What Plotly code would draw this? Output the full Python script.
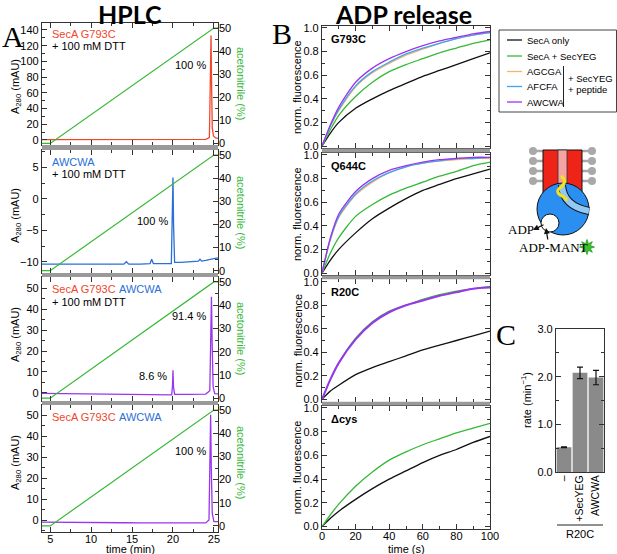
import numpy as np
import plotly.graph_objects as go

W, H = 617, 554

# ---------------- Panel A data (HPLC) ----------------
grad_time = [4.0, 5.0, 25.0, 25.5]
grad_acn = [0, 0, 50, 50]

a1_time = [4.0, 6, 8, 10, 12, 14, 16, 18, 20, 22, 24.0, 24.45, 24.55, 24.65, 24.72, 24.8, 24.95, 25.2, 25.5]
a1_abs = [0.4, 0.4, 0.4, 0.5, 0.5, 0.5, 0.5, 0.5, 0.6, 0.6, 0.8, 3, 60, 133, 70, 15, 5, 2.5, 2]

a2_time = [4.0, 6, 8, 10, 12, 14.0, 14.3, 14.6, 16, 17.2, 17.4, 17.6, 19.8, 19.93, 20.0, 20.07, 20.2,
           21, 22, 23.1, 23.3, 23.5, 24, 24.5, 25, 25.5]
a2_abs = [-10.4, -10.4, -10.5, -10.5, -10.4, -10.4, -10.0, -10.4, -10.4, -10.3, -9.6, -10.3, -10.3, -4,
          3.4, -4, -10.1, -10.1, -10.0, -9.9, -9.6, -9.9, -9.8, -9.6, -9.5, -9.4]

a3_time = [4.0, 6, 8, 10, 12, 14, 16, 18, 19.85, 19.95, 20.0, 20.06, 20.2, 22, 24.0, 24.5, 24.62, 24.7,
           24.78, 24.9, 25.1, 25.5]
a3_abs = [-0.3, -0.4, -0.5, -0.6, -0.7, -0.8, -0.9, -1.0, -1.0, 4, 10.8, 3, -0.7, -0.7, -0.6, 1, 25,
          46, 25, 3, -0.4, -0.5]

a4_time = [4.0, 6, 8, 10, 12, 14, 16, 18, 20, 22, 24.0, 24.4, 24.52, 24.6, 24.68, 24.8, 25.0, 25.5]
a4_abs = [-1.0, -1.0, -1.1, -1.2, -1.3, -1.3, -1.4, -1.4, -1.5, -1.5, -1.4, 0, 25, 50.2, 25, 3, -0.8, -0.8]

# ---------------- Panel B data (ADP release) ----------------
b_time = [0, 5, 10, 20, 30, 40, 50, 60, 70, 80, 90, 100]
g793_only = [0, 0.11, 0.20, 0.32, 0.40, 0.47, 0.53, 0.59, 0.64, 0.69, 0.74, 0.79]
g793_secyeg = [0, 0.14, 0.26, 0.42, 0.54, 0.63, 0.69, 0.74, 0.79, 0.83, 0.87, 0.90]
g793_agcga = [0, 0.17, 0.30, 0.50, 0.62, 0.70, 0.77, 0.82, 0.87, 0.91, 0.94, 0.96]
g793_afcfa = [0, 0.17, 0.31, 0.51, 0.63, 0.71, 0.78, 0.83, 0.87, 0.91, 0.94, 0.96]
g793_awcwa = [0, 0.18, 0.33, 0.54, 0.66, 0.74, 0.80, 0.85, 0.89, 0.92, 0.95, 0.97]

q644_only = [0, 0.11, 0.20, 0.34, 0.46, 0.55, 0.63, 0.70, 0.75, 0.80, 0.84, 0.88]
q644_secyeg = [0, 0.17, 0.30, 0.48, 0.58, 0.66, 0.72, 0.77, 0.82, 0.86, 0.91, 0.94]
q644_agcga = [0, 0.28, 0.47, 0.66, 0.77, 0.85, 0.90, 0.93, 0.95, 0.96, 0.97, 0.97]
q644_afcfa = [0, 0.29, 0.48, 0.67, 0.78, 0.85, 0.90, 0.93, 0.95, 0.97, 0.97, 0.98]
q644_awcwa = [0, 0.30, 0.50, 0.69, 0.80, 0.87, 0.91, 0.94, 0.96, 0.97, 0.98, 0.98]

r20_only = [0, 0.07, 0.12, 0.21, 0.27, 0.32, 0.37, 0.42, 0.46, 0.50, 0.54, 0.58]
r20_secyeg = [0, 0.17, 0.31, 0.52, 0.66, 0.75, 0.80, 0.85, 0.89, 0.92, 0.94, 0.96]
r20_awcwa = [0, 0.17, 0.31, 0.51, 0.65, 0.74, 0.80, 0.84, 0.88, 0.91, 0.94, 0.95]

dcys_only = [0, 0.07, 0.13, 0.23, 0.32, 0.40, 0.47, 0.54, 0.60, 0.65, 0.71, 0.76]
dcys_secyeg = [0, 0.10, 0.19, 0.34, 0.46, 0.56, 0.63, 0.69, 0.74, 0.79, 0.83, 0.87]

legend_names = ["SecA only", "SecA + SecYEG", "AGCGA", "AFCFA", "AWCWA"]

# ---------------- Panel C data ----------------
c_cats = ["–", "+SecYEG", "AWCWA"]
c_rates = [0.52, 2.08, 1.98]
c_errs = [0.01, 0.12, 0.15]

# ---------------- colours ----------------
C_RED = "#f2462a"
C_BLUE = "#2a6fd8"
C_PURPLE = "#9a35ee"
C_GREEN = "#35b935"
C_BLACK = "#111111"
C_ORANGE = "#f6b36a"
C_LBLUE = "#3aa8f0"
series_colors = [C_BLACK, C_GREEN, C_ORANGE, C_LBLUE, C_PURPLE]

FONT = "Liberation Sans"
SERIF = "Liberation Serif"


def xd(a, b):
    return [a / W, b / W]


def yd(top, bot):
    return [1 - bot / H, 1 - top / H]


AX = dict(showline=True, linecolor="#333", linewidth=1.2, ticks="inside", ticklen=5,
          tickcolor="#333", tickwidth=1, showgrid=False, zeroline=False, automargin=False,
          tickfont=dict(size=11, color="black", family=FONT))

fig = go.Figure()
layout = {}
shapes = []
annotations = []


def ann(x, y, text, size=11, color="black", xanchor="center", yanchor="middle", family=FONT,
        textangle=0, **kw):
    annotations.append(dict(x=x, y=y, xref="x10", yref="y14", text=text, showarrow=False,
                            font=dict(size=size, color=color, family=family), xanchor=xanchor,
                            yanchor=yanchor, textangle=textangle, **kw))


# ---------------- Panel A ----------------
A_frames = [(23, 145), (150, 273), (277, 401), (405, 532)]
A_yranges = [(-6.4, 148.9), (-11.8, 7.8), (-3.9, 55.4), (-5.7, 54.8)]
A_dtick = [20, 5, 10, 10]
A_minor = [10, 2.5, 5, 5]
A_rranges = [(-0.7, 52.2), (-1.0, 52.2), (-1.2, 52.1), (-2.6, 52.2)]
A_series = [(a1_time, a1_abs, C_RED), (a2_time, a2_abs, C_BLUE),
            (a3_time, a3_abs, C_PURPLE), (a4_time, a4_abs, C_PURPLE)]
AX_L, AX_R = 42, 218

for i in range(4):
    xn = "xaxis" if i == 0 else f"xaxis{i + 1}"
    xr = "x" if i == 0 else f"x{i + 1}"
    yl = "yaxis" if i == 0 else f"yaxis{i + 1}"
    ylr = "y" if i == 0 else f"y{i + 1}"
    yrn = f"yaxis{i + 5}"
    yrr = f"y{i + 5}"
    top, bot = A_frames[i]
    layout[xn] = dict(AX, domain=xd(AX_L, AX_R), range=[4.0, 25.5], anchor=ylr, tick0=5, dtick=5,
                      mirror="ticks", showticklabels=(i == 3), ticklabelstandoff=-3,
                      minor=dict(dtick=2.5, tick0=5, ticks="inside", ticklen=3, tickcolor="#333"))
    layout[yl] = dict(AX, domain=yd(top, bot), range=list(A_yranges[i]), anchor=xr,
                      dtick=A_dtick[i], mirror=True,
                      minor=dict(dtick=A_minor[i], ticks="inside", ticklen=3, tickcolor="#333"))
    layout[yrn] = dict(AX, domain=yd(top, bot), range=list(A_rranges[i]), anchor=xr,
                       overlaying=ylr, side="right", dtick=10, showline=False,
                       minor=dict(dtick=5, ticks="inside", ticklen=3, tickcolor="#333"))
    t, v, c = A_series[i]
    fig.add_trace(go.Scatter(x=t, y=v, mode="lines", line=dict(color=c, width=1.3),
                             xaxis=xr, yaxis=ylr, showlegend=False, hoverinfo="skip"))
    fig.add_trace(go.Scatter(x=grad_time, y=grad_acn, mode="lines", line=dict(color=C_GREEN, width=1.2),
                             xaxis=xr, yaxis=yrr, showlegend=False, hoverinfo="skip"))

# separators in panel A
for (t1, b1), (t2, b2) in zip(A_frames[:-1], A_frames[1:]):
    shapes.append(dict(type="rect", xref="x10", yref="y14", x0=AX_L, x1=AX_R, y0=b1, y1=t2,
                       fillcolor="#9a9a9a", line=dict(width=0), layer="below"))

# panel A texts
ann(130, 14, "<b>HPLC</b>", size=25, family="Lato")
ann(0, 36, "A", size=30, family=SERIF, xanchor="left")
for yc in [87, 216, 335, 463]:
    ann(16, yc, "A<sub>280</sub> (mAU)", size=11, textangle=-90)
for yc in [83, 212, 338, 462]:
    ann(241, yc, "acetonitrile (%)", size=11, color=C_GREEN, textangle=90)
ann(50, 34, "SecA G793C", color=C_RED, xanchor="left")
ann(50, 45.5, "+ 100 mM DTT", xanchor="left")
ann(208, 65, "100 %", xanchor="right")
ann(50, 162, "AWCWA", color=C_BLUE, xanchor="left")
ann(50, 173.5, "+ 100 mM DTT", xanchor="left")
ann(170, 221, "100 %", xanchor="right")
ann(50, 289, "SecA G793C", color=C_RED, xanchor="left")
ann(117, 289, "AWCWA", color=C_BLUE, xanchor="left")
ann(50, 301.5, "+ 100 mM DTT", xanchor="left")
ann(208, 316, "91.4 %", xanchor="right")
ann(169, 376, "8.6 %", xanchor="right")
ann(50, 417, "SecA G793C", color=C_RED, xanchor="left")
ann(117, 417, "AWCWA", color=C_BLUE, xanchor="left")
ann(208, 451, "100 %", xanchor="right")
ann(130, 548.5, "time (min)", size=11)

# ---------------- Panel B ----------------
B_frames = [(25.6, 148.4), (152.6, 275.4), (279.3, 401.7), (405.6, 529.0)]
B_sets = [
    [g793_only, g793_secyeg, g793_agcga, g793_afcfa, g793_awcwa],
    [q644_only, q644_secyeg, q644_agcga, q644_afcfa, q644_awcwa],
    [r20_only, r20_secyeg, None, None, r20_awcwa],
    [dcys_only, dcys_secyeg, None, None, None],
]
B_labels = ["G793C", "Q644C", "R20C", "Δcys"]
BX_L, BX_R = 322, 490
for i in range(4):
    xn, xr = f"xaxis{5 + i}", f"x{5 + i}"
    yn, yr = f"yaxis{9 + i}", f"y{9 + i}"
    top, bot = B_frames[i]
    layout[xn] = dict(AX, domain=xd(BX_L, BX_R), range=[0, 100], anchor=yr, dtick=20, mirror="ticks",
                      showticklabels=(i == 3), ticklabelstandoff=-3,
                      minor=dict(dtick=10, ticks="inside", ticklen=3, tickcolor="#333"))
    layout[yn] = dict(AX, domain=yd(top, bot), range=[-0.02, 1.02], anchor=xr, dtick=0.2,
                      tickformat=".1f", mirror="ticks",
                      minor=dict(dtick=0.1, ticks="inside", ticklen=3, tickcolor="#333"))
    for k, ser in enumerate(B_sets[i]):
        if ser is None:
            continue
        wdt = 2.0 if (i == 2 and k == 4) else 1.3
        fig.add_trace(go.Scatter(x=b_time, y=ser, mode="lines",
                                 line=dict(color=series_colors[k], width=wdt, shape="spline", smoothing=0.7),
                                 xaxis=xr, yaxis=yr, showlegend=False, hoverinfo="skip"))
    ann(329, top + 13, f"<b>{B_labels[i]}</b>", size=11, xanchor="left")
    ann(297, (top + bot) / 2, "norm. fluorescence", size=11, textangle=-90)

for (t1, b1), (t2, b2) in zip(B_frames[:-1], B_frames[1:]):
    shapes.append(dict(type="rect", xref="x10", yref="y14", x0=BX_L, x1=BX_R, y0=b1, y1=t2,
                       fillcolor="#9a9a9a", line=dict(width=0), layer="below"))

ann(403, 14, "<b>ADP release</b>", size=25, family="Lato")
ann(282, 33, "B", size=30, family=SERIF)
ann(406, 548.5, "time (s)", size=11)

# legend box
shapes.append(dict(type="rect", xref="x10", yref="y14", x0=499, x1=616.5, y0=30, y1=112,
                   line=dict(color="#444", width=1), fillcolor="white", layer="below"))
leg_y = [40, 56, 71.5, 86.5, 102]
for name, col, yy in zip(legend_names, series_colors, leg_y):
    shapes.append(dict(type="line", xref="x10", yref="y14", x0=507, x1=522, y0=yy, y1=yy,
                       line=dict(color=col, width=1.3)))
    ann(525, yy, name, size=9.5, xanchor="left")
shapes.append(dict(type="line", xref="x10", yref="y14", x0=563.5, x1=563.5, y0=66, y1=107,
                   line=dict(color="#222", width=1)))
ann(566, 78, "+ SecYEG", size=9.5, xanchor="left")
ann(566, 89, "+ peptide", size=9.5, xanchor="left")

# ---------------- Schematic ----------------
for yy in [151, 161, 171, 181]:
    for xs, xe in [(533, 543), (592, 582)]:
        shapes.append(dict(type="line", xref="x10", yref="y14", x0=xs, x1=xe, y0=yy, y1=yy,
                           line=dict(color="#a9a9a9", width=2.5)))
        shapes.append(dict(type="circle", xref="x10", yref="y14", x0=xs - 4, x1=xs + 4, y0=yy - 4,
                           y1=yy + 4, fillcolor="#a9a9a9", line=dict(width=0)))
shapes.append(dict(type="rect", xref="x10", yref="y14", x0=543, x1=582, y0=150, y1=196,
                   fillcolor="#ee2418", line=dict(color="#111", width=1)))
shapes.append(dict(type="rect", xref="x10", yref="y14", x0=558, x1=567, y0=150, y1=190,
                   fillcolor="#f5a3a3", line=dict(color="#333", width=0.8)))
shapes.append(dict(type="circle", xref="x10", yref="y14", x0=537, x1=589, y0=183, y1=235,
                   fillcolor="#2a8ff0", line=dict(color="#111", width=1)))
shapes.append(dict(type="path", xref="x10", yref="y14", path="M 562 185 Q 563 206 589 211",
                   line=dict(color="#111", width=8)))
shapes.append(dict(type="path", xref="x10", yref="y14", path="M 562 185 Q 563 206 589 211",
                   line=dict(color="#92c8f6", width=6)))
shapes.append(dict(type="circle", xref="x10", yref="y14", x0=541, x1=559, y0=214, y1=232,
                   fillcolor="white", line=dict(color="#111", width=1)))
shapes.append(dict(type="path", xref="x10", yref="y14",
                   path="M 561 176 Q 568 181 561 187 Q 554 192 562 196 Q 567 198 566 201",
                   line=dict(color="#f4e21a", width=3)))
ang = np.arange(16) * np.pi / 8
rad = np.where(np.arange(16) % 2 == 0, 7.5, 3.6)
sx = 587 + rad * np.sin(ang)
sy = 247 - rad * np.cos(ang)
star_path = "M " + " L ".join(f"{a:.1f} {b:.1f}" for a, b in zip(sx, sy)) + " Z"
ann(553, 247, "ADP-MANT", size=13, family=SERIF)
ann(521, 229, "ADP", size=13, family=SERIF)
shapes.append(dict(type="path", xref="x10", yref="y14", path=star_path, fillcolor="#3fbf2f",
                   line=dict(color="#2a9a22", width=0.8)))
annotations.append(dict(x=533, y=230, ax=545, ay=224, xref="x10", yref="y14", axref="x10", ayref="y14",
                        showarrow=True, arrowhead=2, arrowsize=0.9, arrowwidth=1.3, arrowcolor="#111",
                        text=""))
annotations.append(dict(x=546, y=228, ax=548, ay=241, xref="x10", yref="y14", axref="x10", ayref="y14",
                        showarrow=True, arrowhead=2, arrowsize=0.9, arrowwidth=1.3, arrowcolor="#111",
                        text=""))

# ---------------- Panel C ----------------
layout["xaxis9"] = dict(AX, domain=xd(556, 604), anchor="y13", ticks="", tickangle=-90, mirror=True,
                        ticklabelstandoff=-2, tickfont=dict(size=10.5, color="black", family=FONT))
layout["yaxis13"] = dict(AX, domain=yd(329, 472), anchor="x9", range=[0, 3.0], dtick=1.0, tickformat=".1f",
                         mirror="ticks", minor=dict(dtick=0.5, ticks="inside", ticklen=3, tickcolor="#333"))
fig.add_trace(go.Bar(x=c_cats, y=c_rates, xaxis="x9", yaxis="y13", marker=dict(color="#8a8a8a", line=dict(width=0)),
                     error_y=dict(type="data", array=c_errs, color="#111", thickness=1.2, width=3),
                     showlegend=False, hoverinfo="skip"))
ann(506, 334, "C", size=30, family=SERIF)
ann(526, 400, "rate (min<sup>−1</sup>)", size=11, textangle=-90)
shapes.append(dict(type="line", xref="x10", yref="y14", x0=557, x1=603, y0=525, y1=525,
                   line=dict(color="#222", width=1)))
ann(580, 534, "R20C", size=11)

# ---------------- overlay axis for decorations ----------------
layout["xaxis10"] = dict(domain=[0, 1], range=[0, W], visible=False, anchor="y14", fixedrange=True,
                         automargin=False)
layout["yaxis14"] = dict(domain=[0, 1], range=[H, 0], visible=False, anchor="x10", fixedrange=True,
                         automargin=False)
fig.add_trace(go.Scatter(x=[], y=[], xaxis="x10", yaxis="y14", showlegend=False))

fig.update_layout(**layout)
fig.update_layout(template="none", width=W, height=H, margin=dict(l=0, r=0, t=0, b=0, pad=0),
                  paper_bgcolor="white", plot_bgcolor="rgba(0,0,0,0)", showlegend=False, bargap=0.08,
                  font=dict(family=FONT, size=11, color="black"),
                  shapes=shapes, annotations=annotations)

fig.write_html("out.html", config={"displayModeBar": False},
               post_script="document.body.style.margin='0';")
